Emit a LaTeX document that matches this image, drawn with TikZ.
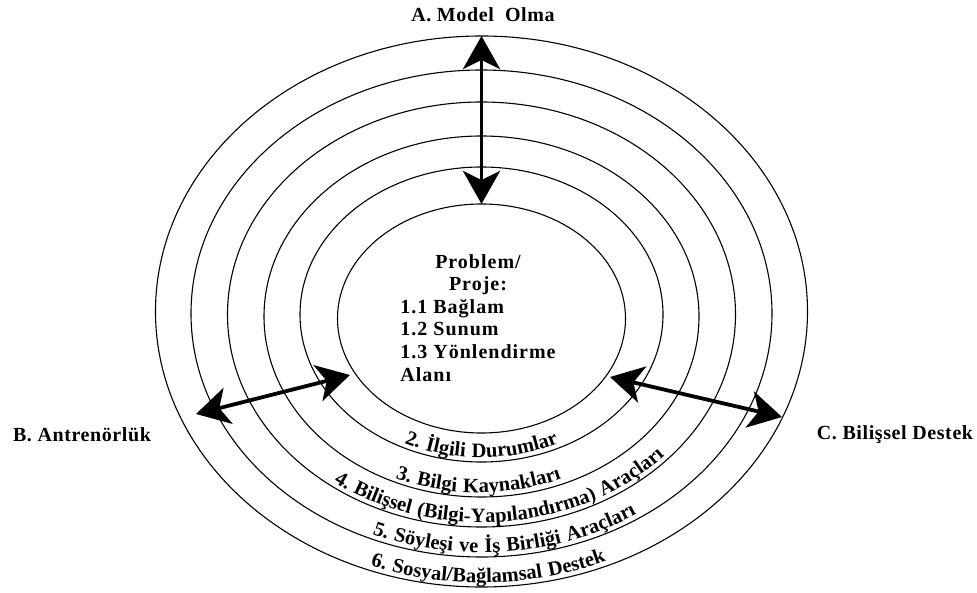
\documentclass[tikz,border=0pt]{standalone}
\usepackage{fontspec}
\setmainfont{Liberation Serif}
\usetikzlibrary{shapes.geometric,arrows.meta,decorations.text}
\newcommand\lblfont{\fontsize{20}{22.6}\selectfont\bfseries\addfontfeatures{LetterSpace=3}}
\newcommand\corefont{\fontsize{20}{22.6}\selectfont\bfseries\addfontfeatures{LetterSpace=5}}
\newcommand\bandfont{\fontsize{20.5}{24}\selectfont\bfseries\addfontfeatures{LetterSpace=6}}
\begin{document}
\begin{tikzpicture}[x=1pt,y=1pt,
  ring/.style={draw=black, line width=1.1pt, ellipse, inner sep=0pt, outer sep=0pt},
  lbl/.style={font=\lblfont, inner sep=0pt},
  bigarrow/.style={line width=3.8pt, {Stealth[length=33pt,width=37pt,inset=9pt]}-{Stealth[length=33pt,width=37pt,inset=9pt]}},
  band/.style={decorate, decoration={text along path, text align=center, text={#1}}}
]
\useasboundingbox (0,0) rectangle (977,592);
\fill[white] (0,0) rectangle (977,592);

% rings
\node[ring, minimum width=288pt, minimum height=229pt] (r1) at (481.5,273.5) {};
\node[ring, minimum width=363pt, minimum height=295pt] (r2) at (481.5,277.5) {};
\node[ring, minimum width=435pt, minimum height=361pt] (r3) at (481.5,275.5) {};
\node[ring, minimum width=508pt, minimum height=425pt] (r4) at (481.5,277.5) {};
\node[ring, minimum width=581pt, minimum height=487pt] (r5) at (481.5,278.5) {};
\node[ring, minimum width=652pt, minimum height=551pt] (r6) at (481.5,280.5) {};

% centre text
\node[inner sep=0pt, font=\corefont] (core) at (478,272) {\begin{tabular}{@{}l@{}}
\multicolumn{1}{@{}c@{}}{Problem/}\\
\multicolumn{1}{@{}c@{}}{Proje:}\\
1.1 Bağlam\\
1.2 Sunum\\
1.3 Yönlendirme\\
Alanı
\end{tabular}};

% outer labels
\node[lbl] (A) at (483,577) {A. Model\ \ Olma};
\node[lbl] (B) at (82,157) {B. Antrenörlük};
\node[lbl] (C) at (895,157) {C. Bilişsel Destek};

% arrow end points
\coordinate (bL) at (196,178);
\coordinate (bR) at (350,217);
\coordinate (cL) at (610,215);
\coordinate (cR) at (782,175);

\draw[bigarrow] (r6.north) -- (r1.north);
\draw[bigarrow] (bL) -- (bR);
\draw[bigarrow] (cL) -- (cR);

% band labels
\path[band={|\bandfont|2. İlgili Durumlar}]
  (481.5,277.5) ++(200:177 and 143) arc[start angle=200, end angle=340, x radius=177, y radius=143];
\path[band={|\bandfont|3. Bilgi Kaynakları}]
  (478.5,275.5) ++(200:213 and 176) arc[start angle=200, end angle=340, x radius=213, y radius=176];
\path[band={|\bandfont|4. Bilişsel (Bilgi-Yapılandırma) Araçları}]
  (481.5,277.5) ++(196:249.5 and 208) arc[start angle=196, end angle=356, x radius=249.5, y radius=208];
\path[band={|\bandfont|5. Söyleşi ve İş Birliği Araçları}]
  (481.5,278.5) ++(196:286 and 239) arc[start angle=196, end angle=356, x radius=286, y radius=239];
\path[band={|\bandfont|6. Sosyal/Bağlamsal Destek}]
  (481.5,280.5) ++(200:321.5 and 271) arc[start angle=200, end angle=343, x radius=321.5, y radius=271];
\end{tikzpicture}
\end{document}
